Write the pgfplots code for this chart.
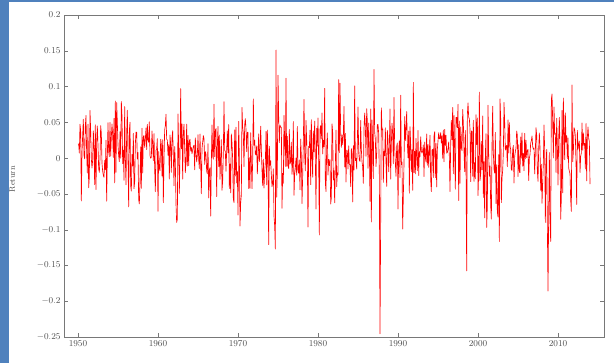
\documentclass[border=0pt]{standalone}
\usepackage{pgfplots}
\usepackage{pgfplotstable}
\pgfplotsset{compat=1.18}
\definecolor{frameblue}{RGB}{79,129,189}
\definecolor{axgray}{RGB}{120,120,120}
\pgfplotstableread[row sep=\\]{r\\
1.97\\ 1.99\\ 0.70\\ 4.86\\ 3.89\\ -5.81\\ 0.77\\ 3.25\\ 5.59\\ 0.41\\ -0.10\\ 4.61\\
6.14\\ 0.57\\ -2.06\\ 4.85\\ -4.06\\ -2.60\\ 6.89\\ 3.93\\ -0.10\\ -1.38\\ -0.26\\ 3.88\\
1.57\\ -3.65\\ 4.77\\ -4.31\\ 2.32\\ 4.60\\ 1.76\\ -1.48\\ -1.97\\ -0.08\\ 4.65\\ 3.54\\
-0.72\\ -1.82\\ -2.36\\ -2.65\\ -0.32\\ -1.63\\ 2.53\\ -5.84\\ 0.11\\ 5.06\\ 0.90\\ 0.20\\
5.12\\ 0.27\\ 3.02\\ 4.90\\ 3.29\\ 0.09\\ 5.72\\ -3.40\\ 8.31\\ -1.95\\ 8.08\\ 5.08\\
1.81\\ 0.35\\ -0.49\\ 3.77\\ -0.01\\ 8.23\\ 6.07\\ -0.78\\ 1.13\\ -3.04\\ 7.48\\ -0.06\\
-3.65\\ 3.49\\ 6.93\\ -0.20\\ -6.59\\ 3.91\\ 5.15\\ -3.81\\ -4.50\\ 0.52\\ -1.10\\ 3.53\\
-4.18\\ -3.28\\ 1.97\\ 3.70\\ 3.69\\ -0.13\\ 0.79\\ -5.64\\ -6.19\\ -3.21\\ 1.60\\ -4.14\\
4.28\\ -2.06\\ 3.10\\ 3.19\\ 1.50\\ 2.63\\ 4.31\\ 1.19\\ 4.84\\ 2.54\\ 2.24\\ 5.21\\
0.38\\ -0.02\\ 0.10\\ 3.88\\ 1.89\\ -0.36\\ 3.49\\ -1.49\\ -4.59\\ 1.09\\ 1.30\\ 2.76\\
-7.15\\ 0.92\\ -1.39\\ -1.75\\ 2.68\\ 1.95\\ -2.48\\ 2.61\\ -6.04\\ -0.17\\ 4.03\\ 4.64\\
6.32\\ 2.69\\ 2.55\\ 0.38\\ 1.91\\ -2.88\\ 3.28\\ 1.96\\ -1.97\\ 2.83\\ 3.90\\ 0.32\\
-3.79\\ 1.63\\ -0.59\\ -6.20\\ -8.60\\ -8.18\\ 6.36\\ 1.53\\ -4.82\\ 0.44\\ 10.20\\ 1.34\\
4.91\\ -2.89\\ 3.55\\ 4.85\\ 1.43\\ -2.02\\ -0.35\\ 4.87\\ -1.10\\ 3.22\\ -1.05\\ 2.44\\
2.69\\ 0.99\\ 1.52\\ 0.60\\ 1.14\\ 1.64\\ 1.82\\ -1.62\\ 2.87\\ 0.81\\ -0.52\\ 0.39\\
3.32\\ -0.15\\ -1.45\\ 3.42\\ -0.77\\ -4.86\\ 1.34\\ 2.27\\ 3.20\\ 2.73\\ -0.88\\ 0.91\\
0.49\\ -1.79\\ -2.18\\ 2.05\\ -5.41\\ -1.61\\ -1.34\\ -7.79\\ -0.70\\ 4.75\\ 0.30\\ -0.15\\
7.82\\ 0.20\\ 3.94\\ 4.22\\ -5.24\\ 1.75\\ 4.53\\ -1.17\\ 3.28\\ -2.93\\ 0.11\\ 2.62\\
-4.38\\ -3.12\\ 0.94\\ 8.19\\ 1.12\\ 0.91\\ -1.83\\ 1.10\\ 3.88\\ 0.73\\ 4.80\\ -4.16\\
-0.82\\ -4.74\\ 3.44\\ 2.15\\ -0.20\\ -5.56\\ -6.02\\ 4.03\\ -2.47\\ 4.42\\ -3.41\\ -1.88\\
-7.65\\ 5.27\\ 0.15\\ -9.05\\ -6.10\\ -5.00\\ 7.33\\ 4.47\\ 3.35\\ -1.16\\ 4.74\\ 5.68\\
4.05\\ 0.91\\ 3.68\\ 3.63\\ -4.16\\ 0.07\\ -4.12\\ 3.61\\ -0.70\\ -4.18\\ -0.25\\ 8.62\\
1.81\\ 2.53\\ 0.59\\ 0.44\\ 1.73\\ -2.18\\ 0.23\\ 3.45\\ -0.49\\ 0.93\\ 4.56\\ 1.18\\
-1.71\\ -3.75\\ -0.14\\ -4.08\\ -1.89\\ -0.66\\ 3.80\\ -3.67\\ 4.01\\ -0.13\\ -11.39\\ 1.66\\
-1.00\\ -0.36\\ -2.33\\ -3.91\\ -3.36\\ -1.47\\ -7.78\\ -9.03\\ -11.93\\ 16.30\\ -5.32\\ -2.02\\
12.28\\ 5.99\\ 2.17\\ 4.73\\ 4.41\\ 4.43\\ -6.77\\ -2.11\\ -3.46\\ 6.16\\ 2.47\\ -1.15\\
11.83\\ -1.14\\ 3.08\\ -1.10\\ -1.44\\ 4.09\\ -0.81\\ -0.51\\ 2.26\\ -2.22\\ -0.78\\ 5.25\\
-5.05\\ -2.17\\ -1.40\\ 0.02\\ -2.36\\ 4.53\\ -1.62\\ -2.10\\ -0.25\\ -4.34\\ 2.70\\ 0.28\\
-6.15\\ -2.48\\ 2.49\\ 8.54\\ 0.41\\ -1.77\\ 5.39\\ 2.59\\ -0.73\\ -9.19\\ 1.66\\ 1.49\\
3.97\\ -3.65\\ 5.52\\ 0.17\\ -2.63\\ 3.87\\ 0.87\\ 5.31\\ 0.00\\ -6.86\\ 4.26\\ 1.68\\
5.76\\ -0.44\\ -10.18\\ 4.11\\ 4.66\\ 2.70\\ 6.50\\ 0.58\\ 2.52\\ 1.60\\ 10.24\\ -3.39\\
-4.57\\ 1.33\\ 3.60\\ -2.35\\ -0.17\\ -1.05\\ -0.22\\ -6.21\\ -5.38\\ 4.91\\ 3.66\\ -3.01\\
-1.75\\ -6.05\\ -1.02\\ 4.00\\ -3.92\\ -2.03\\ -2.30\\ 11.60\\ 0.76\\ 11.05\\ 3.61\\ 1.52\\
3.31\\ 1.90\\ 3.31\\ 7.50\\ -1.23\\ 3.53\\ -3.30\\ 1.13\\ 1.02\\ -1.52\\ 1.74\\ -0.88\\
-0.92\\ -3.89\\ 1.35\\ 0.55\\ -5.94\\ 1.75\\ -1.65\\ 10.63\\ -0.35\\ 0.00\\ -1.51\\ 2.24\\
7.41\\ 0.86\\ -0.29\\ -0.46\\ 5.41\\ 1.21\\ -0.48\\ -1.20\\ -3.47\\ 4.25\\ 6.51\\ 4.51\\
0.24\\ 7.15\\ 5.28\\ -1.41\\ 5.02\\ 1.41\\ -5.87\\ 7.12\\ -8.54\\ 5.47\\ 2.15\\ -2.83\\
13.18\\ 3.69\\ 2.64\\ -1.15\\ 0.60\\ 4.79\\ 4.82\\ 3.50\\ -2.42\\ -21.76\\ -8.53\\ 7.28\\
4.04\\ 4.18\\ -3.33\\ 0.94\\ 0.32\\ 4.33\\ -0.54\\ -3.87\\ 3.97\\ 2.60\\ -1.89\\ 1.47\\
7.11\\ -2.89\\ 2.08\\ 5.01\\ 3.51\\ -0.79\\ 8.84\\ 1.55\\ -0.65\\ -2.52\\ 1.65\\ 2.14\\
-6.88\\ 0.85\\ 2.43\\ -2.69\\ 9.20\\ -0.89\\ -0.52\\ -9.43\\ -5.12\\ -0.67\\ 5.99\\ 2.48\\
4.15\\ 6.73\\ 2.22\\ 0.03\\ 3.86\\ -4.79\\ 4.49\\ 1.96\\ -1.91\\ 1.19\\ -4.39\\ 11.16\\
-1.99\\ 0.96\\ -2.18\\ 2.79\\ 0.10\\ -1.74\\ 3.94\\ -2.40\\ 0.91\\ 0.21\\ 3.03\\ 1.01\\
0.70\\ 1.05\\ 1.87\\ -2.54\\ 2.27\\ 0.08\\ -0.53\\ 3.44\\ -1.00\\ 1.94\\ -1.29\\ 1.01\\
3.25\\ -3.00\\ -4.57\\ 1.15\\ 1.24\\ -2.68\\ 3.15\\ 3.76\\ -2.69\\ 2.08\\ -3.95\\ 1.23\\
2.43\\ 3.61\\ 2.73\\ 2.80\\ 3.63\\ 2.13\\ 3.18\\ -0.03\\ 4.01\\ -0.50\\ 4.10\\ 1.74\\
3.26\\ 0.69\\ 0.79\\ 1.34\\ 2.29\\ 0.23\\ -4.57\\ 1.88\\ 5.42\\ 2.61\\ 7.34\\ -2.15\\
6.13\\ 0.59\\ -4.26\\ 5.84\\ 5.86\\ 4.35\\ 7.81\\ -5.75\\ 5.32\\ -3.45\\ 4.46\\ 1.57\\
1.02\\ 7.04\\ 4.99\\ 0.91\\ -1.88\\ 3.94\\ -1.16\\ -14.58\\ 6.24\\ 8.03\\ 5.91\\ 5.64\\
4.10\\ -3.23\\ 3.88\\ 3.79\\ -2.50\\ 5.44\\ -3.20\\ -0.63\\ -2.86\\ 6.25\\ 1.91\\ 5.78\\
-5.09\\ -2.01\\ 9.67\\ -3.08\\ -2.19\\ 2.39\\ -1.63\\ 6.07\\ -5.35\\ -0.49\\ -8.01\\ 0.41\\
3.46\\ -9.23\\ -6.42\\ 7.68\\ 0.51\\ -2.50\\ -1.07\\ -6.41\\ -8.17\\ 1.81\\ 7.52\\ 0.76\\
-1.56\\ -2.08\\ 3.67\\ -6.14\\ -0.91\\ -7.25\\ -7.90\\ 0.49\\ -11.00\\ 8.64\\ 5.71\\ -6.03\\
-2.74\\ -1.70\\ 0.84\\ 8.10\\ 5.09\\ 1.13\\ 1.62\\ 1.79\\ -1.19\\ 5.50\\ 0.71\\ 5.08\\
1.73\\ 1.22\\ -1.64\\ -1.68\\ 1.21\\ 1.80\\ -3.43\\ 0.23\\ 0.94\\ 1.40\\ 3.86\\ 3.25\\
-2.53\\ 1.89\\ -1.91\\ -2.01\\ 3.00\\ -0.01\\ 3.60\\ -1.12\\ 0.69\\ -1.77\\ 3.52\\ -0.10\\
2.55\\ 0.05\\ 1.11\\ 1.22\\ -3.09\\ 0.01\\ 0.51\\ 2.13\\ 2.46\\ 3.15\\ 1.65\\ 1.26\\
1.41\\ -2.18\\ 1.00\\ 4.33\\ 3.25\\ -1.78\\ -3.20\\ 1.29\\ 3.58\\ 1.48\\ -4.40\\ -0.86\\
-6.12\\ -3.48\\ -0.60\\ 4.75\\ 1.07\\ -8.60\\ -0.99\\ 1.22\\ -9.08\\ -16.94\\ -7.48\\ 0.78\\
-8.57\\ -10.99\\ 8.54\\ 9.39\\ 5.31\\ 0.02\\ 7.41\\ 3.36\\ 3.57\\ -1.98\\ 5.74\\ 1.78\\
-3.70\\ 2.85\\ 5.88\\ 1.48\\ -8.20\\ -5.39\\ 6.88\\ -4.74\\ 8.76\\ 3.69\\ -0.23\\ 6.53\\
2.26\\ 3.20\\ -0.10\\ 2.85\\ -1.35\\ -1.83\\ -2.15\\ -5.68\\ -7.18\\ 10.77\\ -0.51\\ 0.85\\
4.36\\ 4.06\\ 3.13\\ -0.75\\ -6.27\\ 3.96\\ 1.26\\ 1.98\\ 2.42\\ -1.98\\ 0.28\\ 0.71\\
5.04\\ 1.11\\ 3.60\\ 1.81\\ 2.08\\ -1.50\\ 4.95\\ -3.13\\ 2.97\\ 4.46\\ 2.80\\ 2.36\\
-3.56\\
}\spxdata
\begin{document}
\begin{tikzpicture}[x=1bp,y=1bp]
\path[use as bounding box] (0,0) rectangle (614,363);
\fill[frameblue] (0,0) rectangle (9,363);
\fill[frameblue] (0,361) rectangle (614,363);
\begin{axis}[
  at={(64bp,26bp)}, anchor=south west,
  scale only axis, width=540bp, height=322bp,
  xmin=1948.25, xmax=2015.75,
  ymin=-0.25, ymax=0.2,
  xtick={1950,1960,1970,1980,1990,2000,2010},
  ytick={-0.25,-0.2,-0.15,-0.1,-0.05,0,0.05,0.1,0.15,0.2},
  scaled y ticks=false,
  yticklabel style={/pgf/number format/fixed,/pgf/number format/precision=2},
  xticklabel style={/pgf/number format/1000 sep={}},
  tick label style={font=\small, text=black!70},
  axis line style={axgray},
  tick style={axgray},
  tick align=inside,
  major tick length=4bp,
  xtick pos=both, ytick pos=both,
  ylabel={Return},
  every axis y label/.style={at={(axis description cs:-0.096,0.49)}, rotate=90, anchor=center, font=\footnotesize, text=black!70},
  axis background/.style={fill=white},
]
\addplot[red, line width=0.65pt, line join=round]
  table[x index=0, y index=0, x expr=1950+\coordindex/12, y expr=ln(1+\thisrow{r}/100)] {\spxdata};
\end{axis}
\end{tikzpicture}
\end{document}
